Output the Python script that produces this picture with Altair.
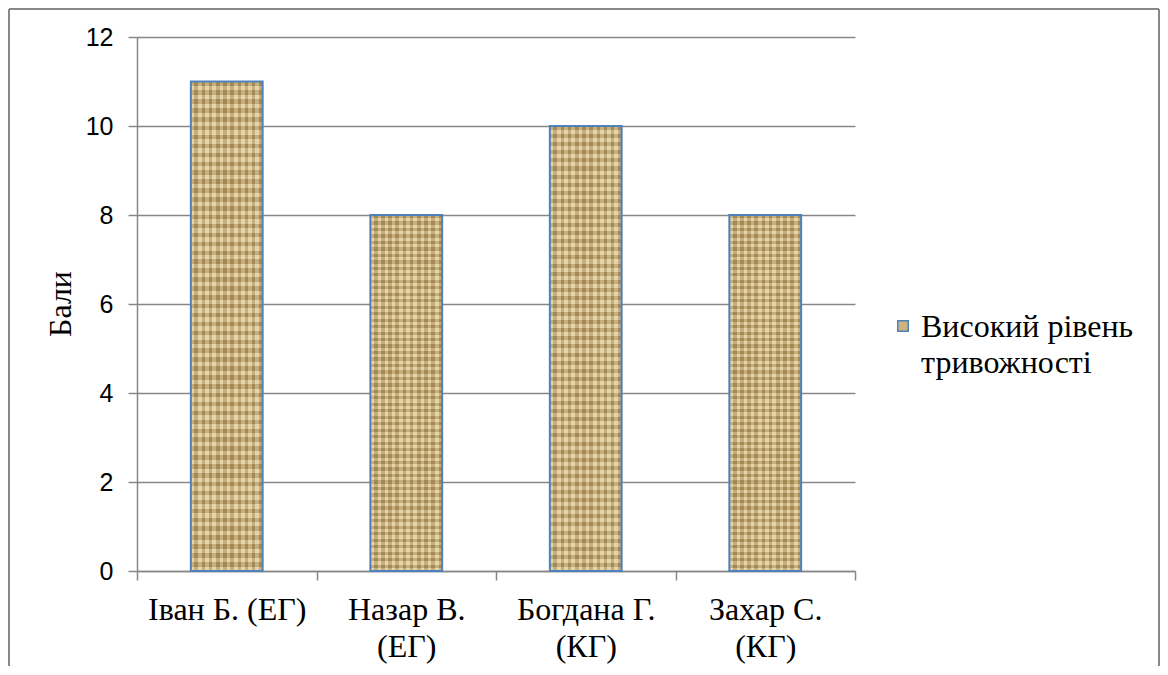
import altair as alt
import pandas as pd

# Data
categories = ["Іван Б. (ЕГ)", "Назар В.\n(ЕГ)", "Богдана Г.\n(КГ)", "Захар С.\n(КГ)"]
values = [11, 8, 10, 8]
series_name = "Високий рівень\nтривожності"
y_title = "Бали"
y_ticks = [0, 2, 4, 6, 8, 10, 12]

df = pd.DataFrame({"name": categories, "score": values, "series": [series_name] * len(categories)})

SERIF = "Liberation Serif, DejaVu Serif"
SANS = "Liberation Sans"
GRAY = "#878787"
FILL = "#CDB47E"
BLUE = "#4F81BD"


def stripes(n, horizontal, dark, light):
    stops = []
    for i in range(n):
        stops.append(alt.GradientStop(color=dark, offset=i / n))
        stops.append(alt.GradientStop(color=dark, offset=(i + 0.5) / n))
        stops.append(alt.GradientStop(color=light, offset=(i + 0.5) / n))
        stops.append(alt.GradientStop(color=light, offset=(i + 1) / n))
    if horizontal:
        return alt.Gradient(gradient="linear", stops=stops, x1=0, x2=0, y1=0, y2=1)
    return alt.Gradient(gradient="linear", stops=stops, x1=0, x2=1, y1=0, y2=0)


x_enc = alt.X("name:N", sort=categories,
              scale=alt.Scale(paddingInner=0, paddingOuter=0),
              axis=alt.Axis(title=None, grid=False, tickBand="extent", labelAngle=0,
                            labelExpr="split(datum.label, '\\n')",
                            labelFont=SERIF, labelFontSize=32, labelColor="black",
                            labelLineHeight=37, labelPadding=14, tickSize=9,
                            tickColor=GRAY, tickWidth=1.5, domainColor=GRAY, domainWidth=1.5,
                            labelLimit=400))
y_enc = alt.Y("score:Q", scale=alt.Scale(domain=[0, 12], nice=False),
              axis=alt.Axis(title=None, values=y_ticks, grid=True, gridColor=GRAY, gridWidth=1.5,
                            tickColor=GRAY, tickWidth=1.5, tickSize=9, domainColor=GRAY, domainWidth=1.5,
                            labelFont=SANS, labelFontSize=25, labelColor="black", labelPadding=15))

base = alt.Chart(df)
bars = base.mark_bar(width=alt.RelativeBandSize(0.4)).encode(
    x=x_enc, y=y_enc,
    color=alt.Color("series:N", scale=alt.Scale(range=[FILL]), legend=None),
)
weave_h = base.mark_bar(width=alt.RelativeBandSize(0.4),
                        fill=stripes(55, True, "rgba(110,80,30,0.28)", "rgba(255,245,210,0.32)")).encode(
    x=alt.X("name:N", sort=categories), y="score:Q")
weave_v = base.mark_bar(width=alt.RelativeBandSize(0.4), stroke=BLUE, strokeWidth=2,
                        fill=stripes(10, False, "rgba(255,245,210,0.25)", "rgba(110,80,30,0.22)")).encode(
    x=alt.X("name:N", sort=categories), y="score:Q")

# y-axis title
title_data = alt.Data(values=[{"t": y_title}])
y_title_mark = alt.Chart(title_data).mark_text(
    angle=270, font=SERIF, fontSize=32, color="black", align="center", baseline="middle"
).encode(text="t:N", x=alt.value(-76), y=alt.value(267))

# legend (symbol + two-line label)
legend_data = alt.Data(values=[{"s": series_name}])
legend_symbol = alt.Chart(legend_data).mark_square(
    size=110, fill=FILL, stroke=BLUE, strokeWidth=1.5, opacity=1
).encode(x=alt.value(766), y=alt.value(289))
legend_text = alt.Chart(legend_data).mark_text(
    font=SERIF, fontSize=32, color="black", align="left", baseline="alphabetic",
    lineBreak="\n", lineHeight=36
).encode(text="s:N", x=alt.value(784), y=alt.value(300))

frame_data = alt.Data(values=[{"k": 1}])
frame_left = alt.Chart(frame_data).mark_rule(color=GRAY, strokeWidth=2).encode(
    x=alt.value(-128), y=alt.value(-28), y2=alt.value(629))
frame_top = alt.Chart(frame_data).mark_rule(color=GRAY, strokeWidth=2).encode(
    x=alt.value(-128), x2=alt.value(1022), y=alt.value(-28))
frame_right = alt.Chart(frame_data).mark_rule(color=GRAY, strokeWidth=2).encode(
    x=alt.value(1022), y=alt.value(-28), y2=alt.value(629))

chart = alt.layer(bars, weave_h, weave_v, y_title_mark, legend_symbol, legend_text,
                  frame_left, frame_top, frame_right).properties(
    width=718, height=534, padding=0, background="white"
).configure_view(stroke=None)

chart.save("out.html", embed_options={"renderer": "svg", "actions": False})
